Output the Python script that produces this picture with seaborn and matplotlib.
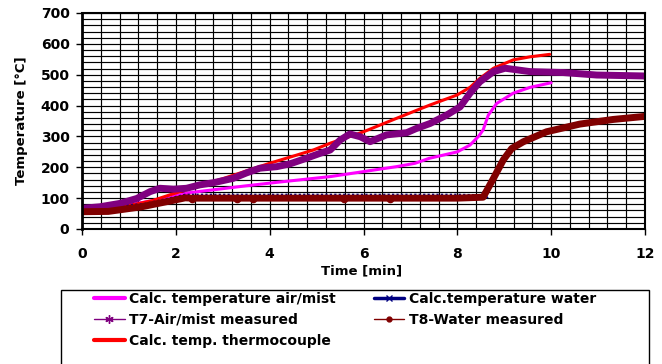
import matplotlib
matplotlib.use("Agg")
import matplotlib.pyplot as plt
import seaborn as sns
import numpy as np
from matplotlib.lines import Line2D
from matplotlib.patches import Rectangle
from matplotlib.ticker import MultipleLocator

sns.set_style("white")
plt.rcParams['font.family'] = ['DejaVu Sans']
plt.rcParams['font.weight'] = 'bold'
for k in ['text.color', 'axes.labelcolor', 'xtick.color', 'ytick.color']:
    plt.rcParams[k] = 'black'

# ---- data ----
t_air = [0, 0.5, 1.0, 1.5, 2.0, 2.3, 2.8, 3.5, 4.2, 5.3, 6.0, 6.7, 7.1, 7.4, 8.0, 8.27, 8.45, 8.55, 8.66, 8.84, 9.19, 9.55, 10.0]
calc_air = [68, 70, 78, 92, 108, 118, 127, 140, 152, 170, 186, 202, 213, 229, 250, 272, 300, 321, 369, 407, 440, 459, 474]

t_thermo = [0, 0.5, 1, 1.5, 1.9, 2.5, 3, 3.5, 4, 4.5, 4.93, 5.29, 6, 6.71, 7.42, 7.99, 8.27, 8.48, 8.77, 9.19, 9.55, 9.97]
calc_thermo = [66, 68, 76, 92, 112, 140, 163, 188, 213, 236, 256, 278, 315, 359, 402, 434, 459, 488, 521, 548, 558, 566]

t_water = [0, 0.6, 1.3, 2.0, 2.2, 4, 6, 8, 8.6]
calc_water = [75, 75, 80, 104, 111, 111, 111, 111, 109]

t_t7 = [0, 0.38, 0.81, 1.17, 1.45, 1.66, 1.95, 2.23, 2.51, 2.8, 3.22, 3.51, 3.79, 4.15, 4.43, 4.72, 5.07, 5.29, 5.5, 5.71, 5.93, 6.14, 6.49, 6.92, 7.13, 7.42, 7.77, 8.06, 8.27, 8.48, 8.77, 9.02, 9.55, 10.26, 10.97, 11.96, 12]
t7_meas = [67, 72, 83, 99, 121, 132, 129, 132, 143, 150, 164, 182, 197, 202, 211, 226, 245, 256, 288, 308, 299, 283, 305, 312, 326, 342, 369, 396, 440, 477, 510, 521, 510, 507, 499, 496, 495]

t_t8 = [0, 0.56, 1.27, 1.98, 2.2, 2.35, 3, 3.3, 3.65, 4, 5, 5.58, 6, 6.56, 7, 8, 8.55, 8.77, 8.98, 9.16, 9.41, 9.9, 10.61, 11.32, 12]
t8_meas = [56, 57, 72, 94, 101, 100, 100, 100, 100, 100, 100, 100, 100, 100, 100, 100, 103, 164, 224, 261, 283, 315, 340, 355, 365]

labels = ["Calc. temperature air/mist", "T7-Air/mist measured", "Calc. temp. thermocouple",
          "Calc.temperature water", "T8-Water measured"]

c_air, c_water, c_t7, c_t8, c_thermo = "#FF00FF", "#000080", "#800080", "#800000", "#FF0000"

W, H = 662, 364
fig = plt.figure(figsize=(W / 100, H / 100), dpi=100)
ax = fig.add_axes([82 / W, 1 - 229 / H, (645 - 82) / W, (229 - 13) / H])

sns.lineplot(x=t_air, y=calc_air, ax=ax, color=c_air, lw=2.2, sort=False, estimator=None)
sns.lineplot(x=t_thermo, y=calc_thermo, ax=ax, color=c_thermo, lw=2.2, sort=False, estimator=None)
sns.lineplot(x=t_water, y=calc_water, ax=ax, color=c_water, lw=1.6, ls=(0, (1, 1)), sort=False, estimator=None)
ax.plot([t_water[-1]], [calc_water[-1]], marker='x', color=c_water, ms=5, mew=1.2, ls='none')
sns.lineplot(x=t_t7, y=t7_meas, ax=ax, color=c_t7, lw=5, sort=False, estimator=None)
sns.lineplot(x=t_t8, y=t8_meas, ax=ax, color=c_t8, lw=5, sort=False, estimator=None)
dot_idx = [5, 7, 8, 11, 13]
ax.plot([t_t8[i] for i in dot_idx], [t8_meas[i] - 4 for i in dot_idx], 'o', color=c_t8, ms=4.5, ls='none')

ax.set_xlim(0, 12)
ax.set_ylim(0, 700)
ax.xaxis.set_major_locator(MultipleLocator(2))
ax.yaxis.set_major_locator(MultipleLocator(100))
ax.xaxis.set_minor_locator(MultipleLocator(0.4))
ax.yaxis.set_minor_locator(MultipleLocator(20))
ax.grid(which='both', color='black', lw=0.85)
ax.set_axisbelow(True)
ax.tick_params(which='major', direction='out', length=4, width=1, color='black',
               labelsize=10, bottom=True, left=True)
ax.tick_params(axis='x', which='major', pad=9)
ax.tick_params(axis='y', which='major', pad=5)
ax.tick_params(which='minor', length=0)
for lab in ax.get_xticklabels() + ax.get_yticklabels():
    lab.set_fontweight('bold')
for s in ax.spines.values():
    s.set_color('black')
    s.set_linewidth(1.5)
ax.spines['left'].set_linewidth(2)

ax.set_xlabel("Time [min]", fontsize=9.5, fontweight='bold', va='center')
ax.set_ylabel("Temperature [°C]", fontsize=9.5, fontweight='bold', va='center')
ax.xaxis.set_label_coords(0.497, -0.194)
ax.yaxis.set_label_coords(-0.107, 0.5)

handles = [
    Line2D([], [], color=c_air, lw=3),
    Line2D([], [], color=c_t7, lw=1, marker=(6, 2, 0), ms=6, mew=1),
    Line2D([], [], color=c_thermo, lw=3),
    Line2D([], [], color=c_water, lw=2.5, marker='x', ms=4, mew=1),
    Line2D([], [], color=c_t8, lw=1, marker='o', ms=3.5),
]
fig.legend(handles, labels, loc='upper left', bbox_to_anchor=(94 / W, 1 - 292 / H),
           ncol=2, frameon=False, borderaxespad=0, borderpad=0, handlelength=2.2,
           handletextpad=0.35, columnspacing=2.7, labelspacing=0.5,
           prop={'weight': 'bold', 'size': 10})
fig.add_artist(Rectangle((61 / W, -0.1), (649 - 61) / W, 0.1 + 1 - 290 / H,
                         transform=fig.transFigure, fill=False, ec='black', lw=1))

fig.savefig("out.png", dpi=100)
